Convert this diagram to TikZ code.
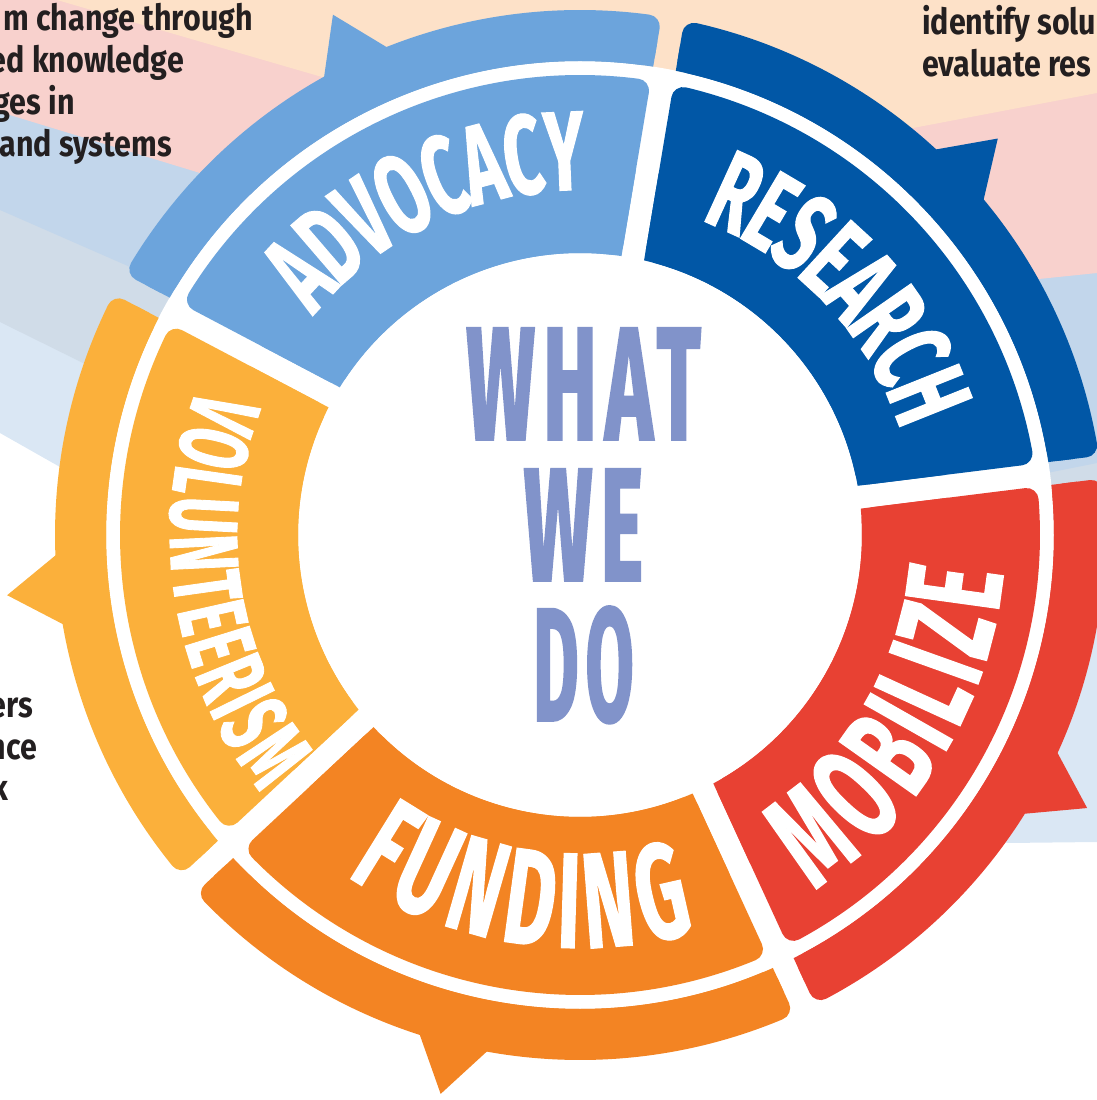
\documentclass[tikz,border=0pt]{standalone}
\usepackage{fontspec}
\usepackage{xcolor}
\usepackage{tikz}
\usetikzlibrary{decorations.text}

\newfontfamily\topfont[FakeStretch=0.6, LetterSpace=4, BoldFeatures={FakeBold=0.9}]{Fira Sans}
\newfontfamily\bandfont[FakeStretch=0.57, LetterSpace=4, BoldFeatures={FakeBold=0.9}]{Fira Sans}
\newfontfamily\titlefont[FakeStretch=0.5, LetterSpace=5, BoldFeatures={FakeBold=1.2}]{Fira Sans}
\newfontfamily\notefont[FakeStretch=0.845]{Fira Sans}
\newcommand\bandbig{\bandfont\bfseries\fontsize{136}{136}\selectfont}
\newcommand\bandmid{\topfont\bfseries\fontsize{113}{113}\selectfont}
\newcommand\bandsmall{\bandfont\bfseries\fontsize{97}{97}\selectfont}

\definecolor{advocacy}{HTML}{6CA4DC}
\definecolor{research}{HTML}{0157A6}
\definecolor{mobilize}{HTML}{E84133}
\definecolor{funding}{HTML}{F38423}
\definecolor{volunteer}{HTML}{FBB03B}
\definecolor{titleblue}{HTML}{8193CA}
\definecolor{notegray}{HTML}{231F20}
\definecolor{bgpeach}{HTML}{FDE1C8}
\definecolor{bgpink}{HTML}{F8D1CD}
\definecolor{bgblueA}{HTML}{C2D6EB}
\definecolor{bgblueB}{HTML}{D0DCE8}
\definecolor{bgblueC}{HTML}{DAE7F4}

% ring piece between two gap lines: style, start offset, start dir, end offset, end dir, inner r, outer r
\newcommand\ringpiece[7]{%
  \pgfmathsetmacro\angA{#3+asin((#2)/(#6))}%
  \pgfmathsetmacro\angB{#3+asin((#2)/(#7))}%
  \pgfmathsetmacro\angC{#5+asin((#4)/(#7))}%
  \pgfmathsetmacro\angD{#5+asin((#4)/(#6))}%
  \path[#1] (\angA:#6) -- (\angB:#7) arc[start angle=\angB, end angle=\angC, radius=#7]
    -- (\angD:#6) arc[start angle=\angD, end angle=\angA, radius=#6] -- cycle;
}

\begin{document}
\begin{tikzpicture}[x=1pt, y=1pt,
    band/.style={fill=#1},
    softband/.style={fill=#1, draw=#1, line width=24pt, line join=round},
    label/.style={decorate, decoration={text along path, text align=center, text color=white, raise=#1}},
    note/.style={font=\notefont\bfseries\fontsize{36}{42}\selectfont, text=notegray, inner sep=0pt},
    title/.style={font=\titlefont\bfseries\fontsize{162}{162}\selectfont, text=titleblue, inner sep=0pt}
]
    \useasboundingbox (-580,-565) rectangle (517,535);

    % Background bands
    \fill[bgblueC] (-580,535) -- (-580,102) -- (-520,68) -- (0,0) -- (427,-308) -- (517,-307) -- (517,535) -- cycle;
    \fill[bgblueB] (-580,535) -- (-580,213) -- (-497,172) -- (0,0) -- (517,15) -- (517,535) -- cycle;
    \fill[bgblueA] (-580,535) -- (-580,325) -- (-443,265) -- (-280,205) -- (0,0) -- (472,63) -- (517,72) -- (517,535) -- cycle;
    \fill[bgpink] (-580,535) -- (-580,423) -- (-380,362) -- (0,0) -- (420,252) -- (517,262) -- (517,535) -- cycle;
    \fill[bgpeach] (-523,535) -- (-258,458) -- (0,235) -- (333,407) -- (517,442) -- (517,535) -- cycle;

    \fill[white] (0,0) circle[radius=474];

    % Segments (colour / start gap / end gap / tail)
    \foreach \col/\eS/\dS/\eE/\dE/\tail in {research/3.0/7.1/-6.4/80.5/43.5,
        advocacy/-6.4/80.5/-7.1/152.2/115.4, volunteer/-7.1/152.2/-11.8/223/186,
        funding/-11.8/223/5.8/294.7/256, mobilize/5.8/294.7/3.0/367.1/331.7} {
        \ringpiece{band=\col}{\eS+11.5}{\dS}{\eE-11.5}{\dE}{282}{370}
        \ringpiece{softband=\col}{\eS+23.5}{\dS}{\eE-23.5}{\dE}{294}{448}
        \ringpiece{band=\col}{\eS+11.5}{\dS}{\eE-11.5}{\dE}{474}{500}
        \ringpiece{softband=\col}{\eS+23.5}{\dS}{\eE-23.5}{\dE}{486}{513}
        \fill[\col] (\tail-4.1:521) -- (\tail:576) -- (\tail+4.1:521) -- cycle; % tail
    }

    % Labels
    \path[label=-23pt, decoration={text={|\bandmid|ADVOCACY}}]
        (164.8:368) arc[start angle=164.8, end angle=64.8, radius=368];
    \path[label=-23pt, decoration={text={|\bandmid|RESEARCH}}]
        (93.5:360) arc[start angle=93.5, end angle=-6.5, radius=360];
    \path[label=-66pt, decoration={text={|\bandbig|MOBILIZE}}]
        (-81:359) arc[start angle=-81, end angle=19, radius=359];
    \path[label=-65pt, decoration={text={|\bandbig|FUNDING}}]
        (211:348) arc[start angle=211, end angle=311, radius=348];
    \path[label=-47pt, decoration={text={|\bandsmall|VOLUNTEERISM}}]
        (139:363) arc[start angle=139, end angle=239, radius=363];

    \node[title, anchor=base] (what) at (3.5,95) {WHAT};
    \node[title, anchor=base] (we) at (3.5,-46) {WE};
    \node[title, anchor=base] (do) at (3.5,-186) {\scalebox{0.86}[1]{DO}};

    % Side notes (cut by the page)
    \node[note, anchor=base east] (advA) at (-327,504) {m change through};
    \node[note, anchor=base east] (advB) at (-396,462) {ed knowledge};
    \node[note, anchor=base east] (advC) at (-505,420) {ges in};
    \node[note, anchor=base east] (advD) at (-408,378) {and systems};
    \node[note, anchor=base west] (resA) at (342,500) {identify solu};
    \node[note, anchor=base west] (resB) at (342,458) {evaluate res};
    \node[note, anchor=base east] (volA) at (-547,-182) {ers};
    \node[note, anchor=base east] (volB) at (-543,-224) {nce};
    \node[note, anchor=base east] (volC) at (-572,-265) {k};
\end{tikzpicture}
\end{document}
